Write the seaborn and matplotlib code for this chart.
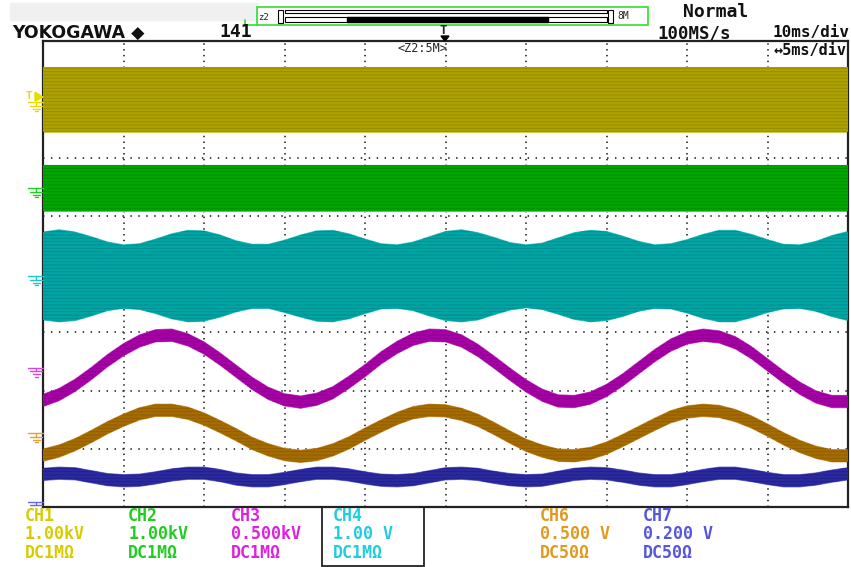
import numpy as np
import pandas as pd
import matplotlib.pyplot as plt
from matplotlib.lines import Line2D
from matplotlib.patches import Rectangle, Polygon
import seaborn as sns

# figure size in pixels
W, H = 851, 567

# time axis: 10 div x 5 ms/div, one point per ms
t_ms = list(range(51))

# CH1 / CH2: switching signals, flat bands (div)
ch1_band = (2.44, 3.55)
ch2_band = (1.08, 1.87)

# CH4: modulated carrier, envelope top / bottom (div)
ch4_top = [0.72, 0.76, 0.72, 0.64, 0.55, 0.50, 0.52, 0.60, 0.69, 0.75, 0.74,
           0.67, 0.57, 0.51, 0.51, 0.58, 0.67, 0.74, 0.75, 0.69, 0.60,
           0.52, 0.50, 0.55, 0.64, 0.73, 0.76, 0.71, 0.63, 0.54, 0.50,
           0.53, 0.62, 0.71, 0.75, 0.73, 0.65, 0.56, 0.50, 0.52, 0.59,
           0.68, 0.75, 0.75, 0.68, 0.59, 0.51, 0.50, 0.56, 0.66, 0.73]
ch4_bot = [-0.79, -0.82, -0.80, -0.72, -0.63, -0.59, -0.61, -0.68, -0.77, -0.82, -0.81,
           -0.74, -0.65, -0.59, -0.59, -0.66, -0.74, -0.81, -0.82, -0.77, -0.68,
           -0.60, -0.59, -0.63, -0.72, -0.80, -0.82, -0.79, -0.70, -0.62, -0.58,
           -0.61, -0.69, -0.78, -0.82, -0.80, -0.73, -0.64, -0.59, -0.60, -0.67,
           -0.76, -0.82, -0.82, -0.75, -0.66, -0.60, -0.59, -0.64, -0.73, -0.80]

# CH3, CH6, CH7: centre of the trace (div)
ch3_mid = [-2.17, -2.07, -1.91, -1.71, -1.49, -1.30, -1.15, -1.06, -1.05, -1.13, -1.27,
           -1.46, -1.67, -1.88, -2.05, -2.16, -2.20, -2.15, -2.04, -1.86, -1.66,
           -1.44, -1.26, -1.12, -1.05, -1.06, -1.15, -1.31, -1.51, -1.72, -1.92,
           -2.08, -2.18, -2.19, -2.13, -2.00, -1.82, -1.61, -1.40, -1.22, -1.10,
           -1.05, -1.08, -1.18, -1.35, -1.56, -1.77, -1.96, -2.11, -2.19, -2.19]
ch6_mid = [-3.11, -3.04, -2.93, -2.79, -2.64, -2.51, -2.40, -2.34, -2.34, -2.39, -2.49,
           -2.62, -2.76, -2.91, -3.02, -3.10, -3.13, -3.10, -3.02, -2.90, -2.75,
           -2.61, -2.48, -2.38, -2.34, -2.35, -2.41, -2.51, -2.65, -2.80, -2.94,
           -3.04, -3.11, -3.12, -3.08, -2.99, -2.86, -2.72, -2.58, -2.45, -2.37,
           -2.34, -2.36, -2.43, -2.54, -2.68, -2.83, -2.96, -3.06, -3.12, -3.12]
ch7_mid = [-3.44, -3.42, -3.43, -3.48, -3.53, -3.55, -3.54, -3.50, -3.45, -3.42, -3.42,
           -3.46, -3.52, -3.55, -3.55, -3.51, -3.46, -3.42, -3.42, -3.45, -3.50,
           -3.54, -3.55, -3.53, -3.48, -3.43, -3.42, -3.44, -3.49, -3.53, -3.55,
           -3.54, -3.49, -3.44, -3.42, -3.43, -3.47, -3.52, -3.55, -3.55, -3.51,
           -3.46, -3.42, -3.42, -3.46, -3.51, -3.55, -3.55, -3.52, -3.47, -3.43]
trace_half = 0.105

# ground marker levels (div)
gnd_levels = [2.95, 1.47, -0.04, -1.61, -2.73, -3.91]
gnd_colors = ['#e6dc00', '#22d022', '#22c4cc', '#dd44dd', '#e0a040', '#6666ee']

# channel labels at the bottom
ch_names = ['CH1', 'CH2', 'CH3', 'CH4', 'CH6', 'CH7']
ch_scale = ['1.00kV', '1.00kV', '0.500kV', '1.00 V', '0.500 V', '0.200 V']
ch_coupl = ['DC1MΩ', 'DC1MΩ', 'DC1MΩ', 'DC1MΩ', 'DC50Ω', 'DC50Ω']
ch_text_colors = ['#d8cc00', '#22cc22', '#dd22dd', '#22ccdd', '#e09a22', '#5555dd']
ch_x = [25, 128, 231, 333, 540, 643]

sns.set_style('white')
plt.rcParams['hatch.linewidth'] = 0.6

fig = plt.figure(figsize=(W / 100, H / 100), dpi=100)
ax = fig.add_axes([43 / W, 1 - 507 / H, (848 - 43) / W, (507 - 41) / H])
ax.set_xlim(0, 50)
ax.set_ylim(-4, 4)
ax.set_xticks([])
ax.set_yticks([])
for s in ax.spines.values():
    s.set_linewidth(1.6)
    s.set_color('#222222')


def px(x, y):
    return x / W, 1 - y / H


# dotted graticule
for gx in range(5, 50, 5):
    ax.axvline(gx, color='#333333', lw=1.3, ls=(0, (0.8, 2.4)), zorder=1)
for gy in range(-3, 4):
    ax.axhline(gy, color='#333333', lw=1.3, ls=(0, (0.8, 3.6)), zorder=1)

# traces: (x, lower, upper, fill, stripes, edge)
bands = [
    ([0, 50], [ch1_band[0]] * 2, [ch1_band[1]] * 2, '#ada100', '#958a00', '#d6cc50'),
    ([0, 50], [ch2_band[0]] * 2, [ch2_band[1]] * 2, '#00a600', '#008e00', '#50d050'),
    (t_ms, ch4_bot, ch4_top, '#00a4a4', '#008c8c', '#60d0d0'),
    (t_ms, list(np.array(ch3_mid) - trace_half), list(np.array(ch3_mid) + trace_half),
     '#a600a6', '#900090', '#d060d0'),
    (t_ms, list(np.array(ch6_mid) - trace_half), list(np.array(ch6_mid) + trace_half),
     '#a46c00', '#8e5c00', '#d8a050'),
    (t_ms, list(np.array(ch7_mid) - trace_half), list(np.array(ch7_mid) + trace_half),
     '#2a2a9e', '#20208a', '#8080dd'),
]
for xs, lo, hi, fc, sc, ec in bands:
    ax.fill_between(xs, lo, hi, facecolor=fc, edgecolor=sc, hatch='-----',
                    linewidth=0, zorder=3)
    edges = pd.DataFrame({'t': list(xs) * 2, 'v': list(lo) + list(hi),
                          'side': ['lo'] * len(xs) + ['hi'] * len(xs)})
    sns.lineplot(data=edges, x='t', y='v', units='side', estimator=None,
                 color=ec, lw=0.8, ax=ax, zorder=2)
ax.set_xlabel('')
ax.set_ylabel('')


# ground markers on the left
def ground(level, color, short=False):
    y0 = H - ax.transData.transform((0, level))[1]
    segs = [((28, 43), (y0, y0)), ((36, 36), (y0, y0 + 3.5)),
            ((30, 42), (y0 + 3.5, y0 + 3.5))]
    if not short:
        segs += [((32.5, 39.5), (y0 + 6.5, y0 + 6.5)), ((34.5, 37.5), (y0 + 9, y0 + 9))]
    for xs, ys in segs:
        fx = [px(x, 0)[0] for x in xs]
        fy = [px(0, y)[1] for y in ys]
        fig.add_artist(Line2D(fx, fy, color=color, lw=1.0, transform=fig.transFigure))
    return y0


for i, (lv, col) in enumerate(zip(gnd_levels, gnd_colors)):
    y0 = ground(lv, col, short=(i == 5))
    if i == 0:
        # trigger level marker for CH1
        fig.text(*px(29, y0 - 6), 'T', color=col, fontsize=8, fontweight='bold',
                 family='DejaVu Sans Mono', ha='center', va='center')
        fig.add_artist(Polygon([px(35, y0 - 10), px(43, y0 - 5), px(35, y0 - 1)],
                               closed=True, color=col, transform=fig.transFigure))

# header
fig.add_artist(Rectangle(px(10, 20), 247 / W, 17 / H, color='#f0f0f0',
                         transform=fig.transFigure, zorder=0))
fig.add_artist(Rectangle(px(257, 25), 391 / W, 18 / H, fill=False, ec='#33dd33',
                         lw=1.2, transform=fig.transFigure))
fig.add_artist(Line2D([px(245, 0)[0], px(245, 0)[0], px(257, 0)[0]],
                      [px(0, 20)[1], px(0, 25)[1], px(0, 25)[1]],
                      color='#33dd33', lw=1.2, transform=fig.transFigure))
fig.text(*px(258, 17.5), 'z2', fontsize=6.5, family='DejaVu Sans Mono', va='center')
for bx in (278, 608):
    fig.add_artist(Rectangle(px(bx, 23), 5 / W, 13 / H, fill=False, ec='black',
                             lw=0.8, transform=fig.transFigure))
fig.add_artist(Rectangle(px(285, 13), 322 / W, 3 / H, fill=False, ec='black',
                         lw=0.8, transform=fig.transFigure))
fig.add_artist(Rectangle(px(285, 22), 322 / W, 5 / H, fill=False, ec='black',
                         lw=0.8, transform=fig.transFigure))
fig.add_artist(Rectangle(px(347, 22), 201 / W, 5 / H, color='black',
                         transform=fig.transFigure))
fig.text(*px(617, 16), '8M', fontsize=7, family='DejaVu Sans Mono', va='center')

fig.text(*px(12, 33), 'YOKOGAWA ◆', fontsize=12.5, fontweight='bold',
         family='DejaVu Sans', va='center', color='#111111')
fig.text(*px(219, 32), '141', fontsize=13, fontweight='bold',
         family='DejaVu Sans Mono', va='center', color='#111111')
fig.text(*px(683, 12), 'Normal', fontsize=13, fontweight='bold',
         family='DejaVu Sans Mono', va='center', color='#111111')
fig.text(*px(657, 33), '100MS/s', fontsize=12.5, fontweight='bold',
         family='DejaVu Sans Mono', va='center', color='#111111')
fig.text(*px(772, 33), '10ms/div', fontsize=11.5, fontweight='bold',
         family='DejaVu Sans Mono', va='center', color='#111111')
fig.text(*px(773, 50), '↔5ms/div', fontsize=11, fontweight='bold',
         family='DejaVu Sans Mono', va='center', color='#111111')
fig.text(*px(397, 48), '<Z2:5M>', fontsize=8.5, family='DejaVu Sans Mono',
         va='center')
fig.text(*px(443, 31), 'T', fontsize=9, fontweight='bold',
         family='DejaVu Sans Mono', ha='center', va='center')
fig.add_artist(Polygon([px(441, 36), px(449, 36), px(445, 41)], closed=True,
                       color='black', transform=fig.transFigure))

# channel info at the bottom
for x, nm, sc, cp, col in zip(ch_x, ch_names, ch_scale, ch_coupl, ch_text_colors):
    for y, s in ((516, nm), (534, sc), (553, cp)):
        fig.text(*px(x, y), s, color=col, fontsize=12, fontweight='bold',
                 family='DejaVu Sans Mono', va='center')
fig.add_artist(Rectangle(px(322, 566), 102 / W, 59 / H, fill=False, ec='#222222',
                         lw=1.3, transform=fig.transFigure))

fig.savefig('out.png', dpi=100)
